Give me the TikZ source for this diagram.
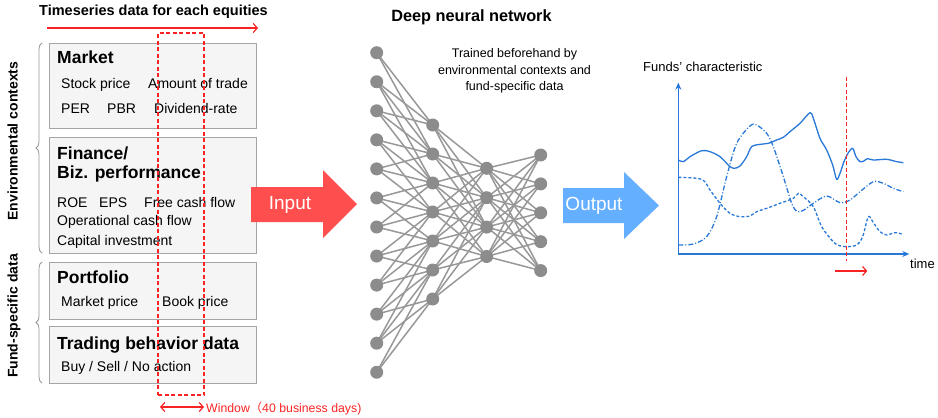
\documentclass[tikz,border=0pt]{standalone}
\usepackage{fontspec}
\setmainfont{Liberation Sans}
\newfontfamily\cjkfont{Noto Sans CJK JP}
\usetikzlibrary{arrows.meta,decorations.pathreplacing,backgrounds,calc}
\definecolor{boxfill}{RGB}{245,245,245}
\definecolor{boxline}{RGB}{165,165,165}
\definecolor{wred}{RGB}{250,35,35}
\definecolor{inred}{RGB}{255,78,78}
\definecolor{outblue}{RGB}{100,175,255}
\definecolor{chblue}{RGB}{40,120,215}
\definecolor{nngray}{RGB}{140,140,140}
\definecolor{edgegray}{RGB}{152,152,152}
\definecolor{bracegray}{RGB}{150,150,150}
\tikzset{
  databox/.style={draw=boxline, fill=boxfill, line width=0.9pt, inner sep=0},
  ttl/.style={anchor=base west, inner sep=0, font=\fontsize{17.5}{20}\selectfont\bfseries},
  itm/.style={anchor=base west, inner sep=0, font=\fontsize{14}{16}\selectfont},
  sidelbl/.style={anchor=base, inner sep=0, rotate=90, font=\fontsize{14}{16}\selectfont\bfseries},
  bracestyle/.style={draw=bracegray, line width=0.8pt, decorate, decoration={brace, amplitude=6pt}},
  nn/.style={circle, fill=nngray, minimum size=13pt, inner sep=0},
  nnedge/.style={draw=edgegray, line width=1.5pt},
  barb/.tip={Straight Barb[length=4pt,width=9pt,line width=1.2pt]},
  redarrow/.style={draw=wred, line width=1.2pt, -barb},
  bigtxt/.style={text=white, inner sep=0, font=\fontsize{19}{22}\selectfont},
  chcurve/.style={draw=chblue, line width=1.3pt},
}
\begin{document}
\begin{tikzpicture}[x=1pt,y=-1pt]
\useasboundingbox (0,0) rectangle (938,418);

% ---------- top labels ----------
\node[anchor=base west, inner sep=0, font=\fontsize{14.5}{16}\selectfont\bfseries] (tsl) at (39,15) {Timeseries data for each equities};
\coordinate (tsa) at (47,28);
\coordinate (tsb) at (258,28);
\draw[redarrow] (tsa) -- (tsb);

\node[anchor=base, inner sep=0, font=\fontsize{16.3}{18}\selectfont\bfseries] (dnn) at (471.5,21) {Deep neural network};

% ---------- data boxes ----------
\node[databox, minimum width=207pt, minimum height=85pt] (mkt) at (152.5,85.5) {};
\node[databox, minimum width=207pt, minimum height=116pt] (fin) at (152.5,195) {};
\node[databox, minimum width=207pt, minimum height=57pt] (pf) at (152.5,290.5) {};
\node[databox, minimum width=207pt, minimum height=57pt] (tr) at (152.5,354.5) {};

\node[ttl] (tmkt) at (57,63) {Market};
\node[itm] (i1) at (61,88) {Stock price};
\node[itm] (i2) at (148,88) {Amount of trade};
\node[itm] (i3) at (61,113.5) {PER};
\node[itm] (i4) at (107,113.5) {PBR};
\node[itm] (i5) at (154,113.5) {Dividend-rate};

\node[ttl] (tfin1) at (57,159) {Finance/};
\node[ttl] (tfin2) at (57,178) {Biz. performance};
\node[itm] (j1) at (57,207.5) {ROE};
\node[itm] (j2) at (99,207.5) {EPS};
\node[itm] (j3) at (144,207.5) {Free cash flow};
\node[itm] (j4) at (57,225.5) {Operational cash flow};
\node[itm] (j5) at (57,245.5) {Capital investment};

\node[ttl] (tpf) at (57,283) {Portfolio};
\node[itm] (k1) at (61,306.5) {Market price};
\node[itm] (k2) at (162,306.5) {Book price};

\node[ttl] (ttr) at (57,349) {Trading behavior data};
\node[itm] (k3) at (61,371.5) {Buy / Sell / No action};

% ---------- braces and side labels ----------
\coordinate (eb1) at (42,253);
\coordinate (eb2) at (42,43);
\draw[bracestyle] (eb1) -- (eb2);
\coordinate (fb1) at (42,383);
\coordinate (fb2) at (42,262);
\draw[bracestyle] (fb1) -- (fb2);
\node[sidelbl] (envl) at (17.5,141) {Environmental contexts};
\node[sidelbl] (fundl) at (17.5,316) {Fund-specific data};

% ---------- window ----------
\node[draw=wred, line width=1.2pt, dash pattern=on 4pt off 2.5pt, minimum width=46pt, minimum height=362pt, inner sep=0] (win) at (181,214) {};
\coordinate (wa) at (160,407);
\coordinate (wb) at (204,407);
\draw[draw=wred, line width=1.1pt, barb-barb] (wa) -- (wb);
\node[anchor=base west, inner sep=0, text=wred, font=\fontsize{12.3}{14}\selectfont] (wtxt) at (206,412) {Window{\cjkfont （}40 business days)};

% ---------- input / output arrows ----------
\fill[inred] (251,187) -- (323,187) -- (323,170) -- (357,204) -- (323,238) -- (323,222) -- (251,222) -- cycle;
\node[bigtxt] (inp) at (290,205) {Input};
\fill[outblue] (563,188) -- (624,188) -- (624,172) -- (659,205.5) -- (624,239) -- (624,223) -- (563,223) -- cycle;
\node[bigtxt] (outp) at (594,206) {Output};

% ---------- network ----------
\foreach \i in {1,...,12} \node[nn] (a\i) at (376.7,{52.7+29.05*(\i-1)}) {};
\foreach \j in {1,...,7} \node[nn] (b\j) at (432.7,{125+29*(\j-1)}) {};
\foreach \k in {1,...,4} \node[nn] (c\k) at (486.7,{168.3+29.4*(\k-1)}) {};
\foreach \l in {1,...,5} \node[nn] (d\l) at (540.7,{155+28.9*(\l-1)}) {};
\begin{pgfonlayer}{background}
\foreach \i in {1,...,12}{\foreach \j in {1,...,7}{
  \pgfmathsetmacro\dd{abs((\i-1)*6/11-(\j-1))}
  \ifdim\dd pt<1.6pt\relax \draw[nnedge] (a\i.center) -- (b\j.center);\fi}}
\foreach \j in {1,...,7}{\foreach \k in {1,...,4}{
  \pgfmathsetmacro\dd{abs((\j-1)/2-(\k-1))}
  \ifdim\dd pt<2.1pt\relax \draw[nnedge] (b\j.center) -- (c\k.center);\fi}}
\foreach \k in {1,...,4}{\foreach \l in {1,...,5}{
  \draw[nnedge] (c\k.center) -- (d\l.center);}}
\end{pgfonlayer}

\node[align=center, inner sep=0, font=\fontsize{12.5}{16.5}\selectfont] (trained) at (514.5,71) {Trained beforehand by\\environmental contexts and\\fund-specific data};

% ---------- chart ----------
\node[anchor=base west, inner sep=0, font=\fontsize{13}{14}\selectfont] (fc) at (643,71.5) {Funds’ characteristic};
\node[anchor=base west, inner sep=0, font=\fontsize{13}{14}\selectfont] (tm) at (910,268) {time};
\begin{scope}[shift={(640,50)}, scale=1/3]
  \coordinate (org) at (115,612);
  \coordinate (ytop) at (115,98);
  \coordinate (xend) at (808,612);
  \draw[draw=chblue, line width=1.6pt, -{Stealth[length=7pt,width=6pt]}] (org) -- (ytop);
  \draw[draw=chblue, line width=1.6pt, -{Stealth[length=7pt,width=6pt]}] (org) -- (xend);
  % solid curve
  \draw[chcurve] plot[smooth, tension=0.5] coordinates {(115,330) (130,335) (150,320) (185,302) (210,305) (240,320) (268,348) (282,355) (300,348) (320,320) (335,290) (360,283) (385,280) (410,270) (430,262) (450,245) (480,220) (510,188) (520,205) (540,265) (560,300) (578,345) (590,388) (600,370) (612,335) (625,308) (638,295) (648,320) (660,335) (672,333) (682,326) (700,330) (740,328) (770,335) (790,338)};
  % dashed curve
  \draw[chcurve, dash pattern=on 3pt off 2pt] plot[smooth, tension=0.5] coordinates {(115,382) (185,388) (210,420) (240,460) (270,490) (300,500) (330,498) (350,485) (380,475) (420,460) (460,445) (475,430) (490,440) (520,470) (545,530) (575,570) (592,585) (620,590) (650,585) (668,560) (685,500) (700,518) (720,545) (740,555) (765,548) (785,552)};
  % dash-dot curve
  \draw[chcurve, dash pattern=on 5pt off 2pt on 1pt off 2pt] plot[smooth, tension=0.5] coordinates {(115,585) (160,582) (200,560) (230,500) (260,380) (290,280) (330,228) (350,225) (380,250) (400,290) (430,380) (455,460) (472,485) (492,480) (520,460) (560,438) (600,458) (630,450) (660,425) (700,395) (730,400) (760,415) (790,425)};
  % red marker
  \coordinate (rl1) at (620,80);
  \coordinate (rl2) at (620,632);
  \draw[draw=wred, line width=1.1pt, dash pattern=on 4pt off 2.5pt] (rl1) -- (rl2);
  \coordinate (ra1) at (585,663);
  \coordinate (ra2) at (682,663);
  \draw[redarrow] (ra1) -- (ra2);
\end{scope}
\end{tikzpicture}
\end{document}
